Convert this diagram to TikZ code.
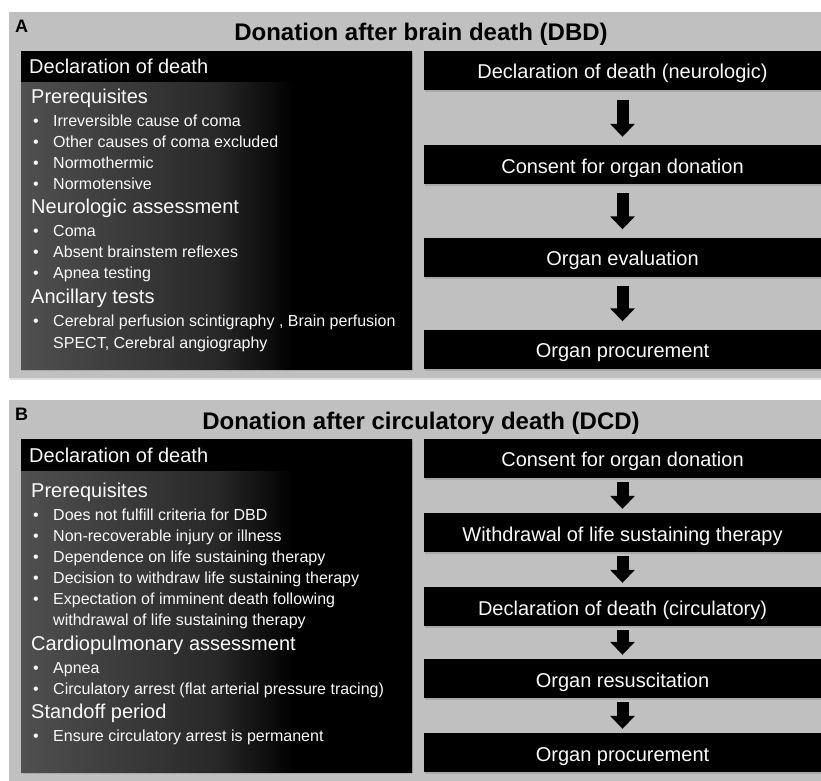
\documentclass[tikz,border=0pt]{standalone}
\usepackage{fontspec}
\setmainfont{Liberation Sans}
\usetikzlibrary{shadows,arrows.meta}
\definecolor{panelgrey}{RGB}{192,192,192}
\definecolor{lboxl}{RGB}{80,80,80}
\definecolor{lboxm}{RGB}{40,40,40}
\definecolor{txtw}{RGB}{250,250,250}
\pgfdeclarehorizontalshading{lboxshade}{100bp}{color(0bp)=(lboxl); color(25bp)=(lboxl); color(50bp)=(lboxm); color(60bp)=(black); color(100bp)=(black)}
\newcommand\myitem[4]{%
  \node[itm] (#1b) at (33,#3) {\textbullet};
  \node[itm] (#1) at (53,#3) {#4};}
\begin{document}
\begin{tikzpicture}[x=1pt,y=-1pt,
  panel/.style={fill=panelgrey, drop shadow={shadow xshift=0.5pt,shadow yshift=-2pt,opacity=0.25}},
  ttl/.style={anchor=base, font=\fontsize{24}{28}\selectfont\bfseries, text=black, inner sep=0},
  lbl/.style={anchor=base west, font=\fontsize{18}{21}\selectfont\bfseries, text=black, inner sep=0},
  hd/.style={anchor=base west, font=\fontsize{20}{24}\selectfont, text=txtw, inner sep=0},
  itm/.style={anchor=base west, font=\fontsize{16}{19}\selectfont, text=txtw, inner sep=0},
  lbox/.style={shading=lboxshade, drop shadow={shadow xshift=1pt,shadow yshift=-2pt,opacity=0.35}},
  flow/.style={fill=black, text=txtw, minimum width=397pt, minimum height=39pt, inner sep=0,
    font=\fontsize{20}{24}\selectfont, text height=19pt, text depth=2pt,
    drop shadow={shadow xshift=1pt,shadow yshift=-2pt,opacity=0.35}},
  down/.style={draw=black, line width=12pt, -{Triangle[width=24pt,length=13pt]}},
]
\useasboundingbox (0,0) rectangle (821,780);
\fill[white] (0,0) rectangle (821,780);

% ---------------- Panel A ----------------
\path[panel] (9,12) rectangle (821,378);
\node[lbl] (labA) at (15,32) {A};
\node[ttl] (titA) at (421,40) {Donation after brain death (DBD)};

\shade[lbox] (21,51) rectangle (412,369);
\fill[black] (21,51) rectangle (412,82);
\node[hd] (aDecl) at (29,73) {Declaration of death};
\node[hd] (aPre) at (31,103) {Prerequisites};
\myitem{aP1}{}{126}{Irreversible cause of coma}
\myitem{aP2}{}{147}{Other causes of coma excluded}
\myitem{aP3}{}{168}{Normothermic}
\myitem{aP4}{}{189}{Normotensive}
\node[hd] (aNeu) at (31,213) {Neurologic assessment};
\myitem{aN1}{}{236}{Coma}
\myitem{aN2}{}{257}{Absent brainstem reflexes}
\myitem{aN3}{}{278}{Apnea testing}
\node[hd] (aAnc) at (31,303) {Ancillary tests};
\myitem{aA1}{}{326}{Cerebral perfusion scintigraphy , Brain perfusion}
\node[itm] (aA1c) at (53,348) {SPECT, Cerebral angiography};

\node[flow] (a1) at (622.5,70) {Declaration of death (neurologic)};
\node[flow] (a2) at (622.5,164.5) {Consent for organ donation};
\node[flow] (a3) at (622.5,257) {Organ evaluation};
\node[flow] (a4) at (622.5,349) {Organ procurement};
\draw[down, shorten <=10pt, shorten >=8pt] (a1) -- (a2);
\draw[down, shorten <=9pt, shorten >=8pt] (a2) -- (a3);
\draw[down, shorten <=9pt, shorten >=8pt] (a3) -- (a4);

% ---------------- Panel B ----------------
\path[panel] (9,400) rectangle (821,782);
\node[lbl] (labB) at (15,420) {B};
\node[ttl] (titB) at (421,429) {Donation after circulatory death (DCD)};

\shade[lbox] (21,439) rectangle (412,772);
\fill[black] (21,439) rectangle (412,471);
\node[hd] (bDecl) at (29,462.5) {Declaration of death};
\node[hd] (bPre) at (31,497) {Prerequisites};
\myitem{bP1}{}{520}{Does not fulfill criteria for DBD}
\myitem{bP2}{}{541}{Non-recoverable injury or illness}
\myitem{bP3}{}{562}{Dependence on life sustaining therapy}
\myitem{bP4}{}{583}{Decision to withdraw life sustaining therapy}
\myitem{bP5}{}{604}{Expectation of imminent death following}
\node[itm] (bP5c) at (53,625) {withdrawal of life sustaining therapy};
\node[hd] (bCar) at (31,650) {Cardiopulmonary assessment};
\myitem{bC1}{}{673}{Apnea}
\myitem{bC2}{}{694}{Circulatory arrest (flat arterial pressure tracing)}
\node[hd] (bSta) at (31,718) {Standoff period};
\myitem{bS1}{}{741}{Ensure circulatory arrest is permanent}

\node[flow] (b1) at (622.5,458) {Consent for organ donation};
\node[flow] (b2) at (622.5,532.5) {Withdrawal of life sustaining therapy};
\node[flow] (b3) at (622.5,606.5) {Declaration of death (circulatory)};
\node[flow] (b4) at (622.5,678.5) {Organ resuscitation};
\node[flow] (b5) at (622.5,752.5) {Organ procurement};
\draw[down, shorten <=4pt, shorten >=4pt] (b1) -- (b2);
\draw[down, shorten <=4pt, shorten >=4pt] (b2) -- (b3);
\draw[down, shorten <=4pt, shorten >=4pt] (b3) -- (b4);
\draw[down, shorten <=4pt, shorten >=4pt] (b4) -- (b5);
\end{tikzpicture}
\end{document}
